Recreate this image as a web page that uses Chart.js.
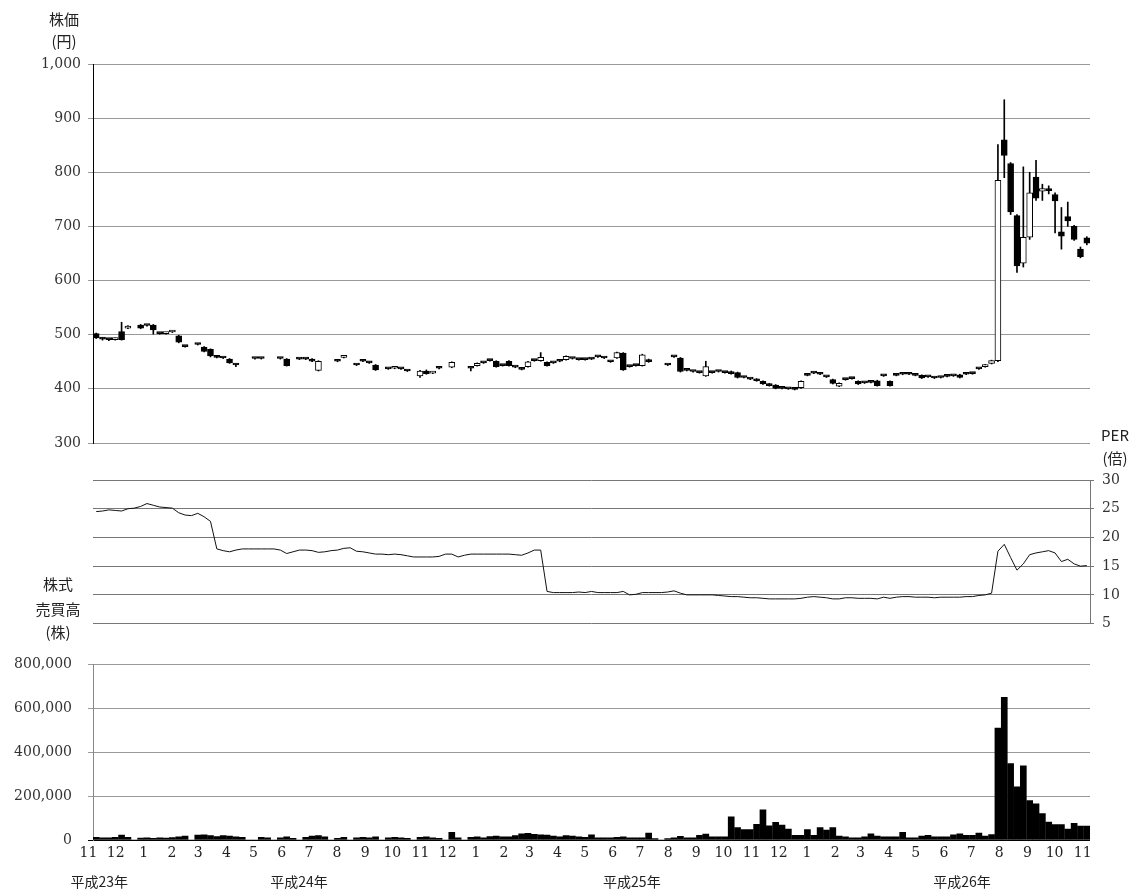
<!DOCTYPE html>
<html lang="ja">
<head>
<meta charset="utf-8">
<title>株価・PER・株式売買高の推移</title>
<script src="https://cdn.jsdelivr.net/npm/chart.js@4.4.1/dist/chart.umd.min.js"></script>
<style>
  html, body { margin: 0; padding: 0; background: #fff; }
  #wrap { position: relative; width: 1133px; height: 891px; overflow: hidden; }
  #wrap canvas { position: absolute; left: 0; }
  .lbl { position: absolute; font-family: "Noto Sans CJK JP", sans-serif; font-size: 15px; color: #222; line-height: 1; text-align: center; white-space: nowrap; }
</style>
</head>
<body>
<div id="wrap">
  <canvas id="priceChart" width="1133" height="460" style="top:0"></canvas>
  <canvas id="perChart" width="1133" height="180" style="top:460px"></canvas>
  <canvas id="volChart" width="1133" height="251" style="top:640px"></canvas>
  <div class="lbl" style="left:44px; top:11px; width:40px">株価</div>
  <div class="lbl" style="left:44px; top:33px; width:40px">(円)</div>
  <div class="lbl" style="left:1098px; top:427px; width:34px">PER</div>
  <div class="lbl" style="left:1098px; top:450px; width:34px">(倍)</div>
  <div class="lbl" style="left:30px; top:576px; width:56px">株式</div>
  <div class="lbl" style="left:30px; top:601px; width:56px">売買高</div>
  <div class="lbl" style="left:30px; top:624px; width:56px">(株)</div>
</div>
<script>
// 週足（平成23年11月第2週 〜 平成26年11月第1週）、null は約定なしの週
const firstWeek = '2011-11-06';

const openP = [
  502, 494, 491, 491, 506, 512, null, 518, 517, 518,
  502, 502, 505, 498, 478, null, 482, 477, 473, 459,
  457, 455, 445, null, null, 456, 456, null, null, 456,
  455, null, 455, 455, 455, 434, null, null, 451, 458,
  null, 444, 451, 449, 444, null, 437, 438, 437, 433,
  null, 424, 433, 429, 438, null, 440, null, null, 438,
  443, 448, 452, 451, 443, 451, 440, 436, 441, 452,
  452, 449, 448, 451, 454, 456, 454, 454, 455, 459,
  457, 450, 457, 466, 441, 443, 443, 454, null, null,
  444, 459, 457, 434, 432, 430, 424, 430, 432, 430,
  432, 430, 421, 418, 418, 414, 409, 407, 401, 400,
  399, 402, 425, 429, 427, 422, 417, 405, 417, 419,
  414, 411, 412, 415, 424, 414, 425, 427, 427, 425,
  425, 422, 420, 421, 423, 424, 426, 427, 428, 437,
  441, 447, 452, 860, 816, 720, 632, 680, 791, 765,
  770, 759, 690, 718, 700, 658, 679
];
const highP = [
  503, 495, 492, 494, 523, 517, null, 519, 518, 519,
  503, 504, 508, 499, 479, null, 483, 478, 474, 460,
  458, 456, 446, null, null, 457, 457, null, null, 457,
  456, null, 456, 456, 456, 452, null, null, 452, 461,
  null, 445, 452, 450, 445, null, 438, 441, 438, 434,
  null, 434, 435, 432, 439, null, 450, null, null, 439,
  448, 449, 453, 452, 444, 452, 441, 437, 451, 453,
  467, 450, 449, 452, 461, 457, 455, 455, 456, 460,
  458, 451, 468, 467, 442, 444, 464, 455, null, null,
  445, 460, 458, 435, 433, 431, 451, 431, 433, 431,
  433, 431, 422, 419, 419, 415, 410, 408, 402, 401,
  400, 415, 426, 430, 428, 423, 418, 411, 418, 420,
  415, 412, 413, 416, 425, 415, 426, 428, 428, 426,
  426, 423, 421, 422, 424, 425, 427, 428, 429, 438,
  445, 453, 851, 934, 818, 722, 810, 800, 822, 778,
  775, 762, 735, 745, 702, 662, 681
];
const lowP = [
  493, 490, 489, 490, 490, 511, null, 511, 516, 501,
  501, 501, 504, 485, 477, null, 481, 468, 459, 457,
  456, 447, 441, null, null, 455, 455, null, null, 455,
  442, null, 454, 454, 450, 433, null, null, 450, 457,
  null, 443, 450, 447, 434, null, 436, 437, 436, 432,
  null, 421, 427, 428, 437, null, 439, null, null, 433,
  442, 447, 451, 440, 442, 442, 439, 435, 440, 451,
  451, 442, 447, 450, 453, 455, 453, 453, 454, 458,
  456, 449, 456, 434, 440, 442, 442, 449, null, null,
  443, 458, 431, 433, 431, 429, 423, 429, 431, 429,
  427, 420, 420, 417, 414, 408, 405, 400, 400, 399,
  398, 401, 424, 428, 426, 421, 409, 404, 416, 418,
  408, 410, 411, 405, 423, 405, 424, 426, 426, 424,
  419, 421, 419, 420, 422, 423, 420, 426, 427, 436,
  440, 446, 450, 790, 722, 615, 625, 676, 748, 748,
  760, 688, 658, 700, 674, 642, 666
];
const closeP = [
  494, 492, 491, 493, 491, 516, null, 512, 517, 509,
  502, 503, 507, 486, 478, null, 482, 469, 461, 458,
  457, 448, 444, null, null, 456, 456, null, null, 456,
  443, null, 455, 455, 451, 451, null, null, 451, 460,
  null, 444, 451, 448, 435, null, 437, 440, 437, 433,
  null, 433, 428, 431, 438, null, 449, null, null, 438,
  447, 448, 452, 441, 443, 443, 440, 436, 450, 452,
  458, 443, 448, 451, 460, 456, 454, 454, 455, 459,
  457, 450, 467, 435, 441, 443, 463, 450, null, null,
  444, 459, 432, 434, 432, 430, 441, 430, 432, 430,
  428, 421, 421, 418, 415, 409, 406, 401, 401, 400,
  399, 414, 425, 429, 427, 422, 410, 410, 417, 419,
  409, 411, 412, 406, 424, 406, 425, 427, 427, 425,
  420, 422, 420, 421, 423, 424, 421, 427, 428, 437,
  444, 452, 785, 831, 727, 627, 680, 762, 752, 770,
  766, 747, 682, 710, 676, 644, 669
];

// PER（倍）
const perValues = [
  24.5, 24.6, 24.8, 24.7, 24.6, 25.0, 25.1, 25.4, 25.9, 25.6,
  25.3, 25.2, 25.1, 24.3, 23.9, 23.8, 24.2, 23.6, 22.8, 18.0,
  17.7, 17.5, 17.8, 18.0, 18.0, 18.0, 18.0, 18.0, 18.0, 17.8,
  17.2, 17.5, 17.8, 17.8, 17.7, 17.4, 17.5, 17.7, 17.8, 18.1,
  18.2, 17.6, 17.5, 17.3, 17.1, 17.1, 17.0, 17.1, 17.0, 16.8,
  16.6, 16.6, 16.6, 16.6, 16.7, 17.1, 17.1, 16.6, 16.9, 17.1,
  17.1, 17.1, 17.1, 17.1, 17.1, 17.1, 17.0, 16.9, 17.3, 17.8,
  17.8, 10.6, 10.4, 10.4, 10.4, 10.4, 10.5, 10.4, 10.6, 10.4,
  10.4, 10.4, 10.4, 10.6, 10.0, 10.1, 10.4, 10.4, 10.4, 10.4,
  10.5, 10.7, 10.3, 10.0, 10.0, 10.0, 10.0, 10.0, 9.9, 9.8,
  9.7, 9.7, 9.6, 9.5, 9.5, 9.4, 9.3, 9.3, 9.3, 9.3,
  9.3, 9.4, 9.6, 9.7, 9.6, 9.5, 9.3, 9.3, 9.5, 9.5,
  9.4, 9.4, 9.4, 9.3, 9.6, 9.4, 9.6, 9.7, 9.7, 9.6,
  9.6, 9.6, 9.5, 9.6, 9.6, 9.6, 9.6, 9.7, 9.7, 9.9,
  10.0, 10.3, 17.6, 18.8, 16.5, 14.3, 15.4, 17.0, 17.3, 17.5,
  17.7, 17.3, 15.8, 16.2, 15.4, 15.0, 15.1
];

// 株式売買高（株）
const volume = [
  12000, 10000, 10000, 12000, 22000, 12000, 0, 9000, 10000, 8000,
  10000, 9000, 11000, 14000, 18000, 0, 22000, 24000, 20000, 16000,
  20000, 18000, 15000, 12000, 0, 0, 12000, 10000, 0, 10000,
  14000, 8000, 0, 12000, 18000, 20000, 14000, 0, 8000, 12000,
  0, 10000, 12000, 10000, 14000, 0, 10000, 12000, 10000, 8000,
  0, 12000, 14000, 10000, 8000, 0, 35000, 10000, 0, 12000,
  14000, 10000, 16000, 18000, 15000, 14000, 20000, 28000, 30000, 26000,
  24000, 22000, 18000, 15000, 20000, 18000, 14000, 12000, 24000, 10000,
  10000, 10000, 12000, 14000, 10000, 10000, 10000, 32000, 7000, 0,
  6000, 10000, 17000, 10000, 10000, 21000, 27000, 14000, 14000, 14000,
  105000, 57000, 47000, 47000, 71000, 138000, 64000, 81000, 68000, 50000,
  21000, 21000, 48000, 21000, 57000, 45000, 57000, 18000, 14000, 10000,
  10000, 14000, 28000, 18000, 14000, 14000, 14000, 35000, 10000, 10000,
  18000, 21000, 14000, 14000, 14000, 24000, 28000, 21000, 21000, 32000,
  18000, 25000, 510000, 650000, 348000, 242000, 338000, 180000, 165000, 120000,
  82000, 70000, 70000, 50000, 76000, 63000, 63000
];

const monthStarts = [
  '2011-11', '2011-12',
  '2012-01', '2012-02', '2012-03', '2012-04', '2012-05', '2012-06',
  '2012-07', '2012-08', '2012-09', '2012-10', '2012-11', '2012-12',
  '2013-01', '2013-02', '2013-03', '2013-04', '2013-05', '2013-06',
  '2013-07', '2013-08', '2013-09', '2013-10', '2013-11', '2013-12',
  '2014-01', '2014-02', '2014-03', '2014-04', '2014-05', '2014-06',
  '2014-07', '2014-08', '2014-09', '2014-10', '2014-11'
];
const yearLabels = ['平成23年', '平成24年', '平成25年', '平成26年'];
const yearAnchors = ['2011-11-13', '2012-06-20', '2013-06-22', '2014-06-21'];

const priceTicks = { min: 300, max: 1000, step: 100 };
const perTicks = { min: 5, max: 30, step: 5 };
const volumeTicks = { min: 0, max: 800000, step: 200000 };

// ---- helpers ----
const DAY = 86400000;
function dayOf(s) {
  const p = s.split('-').map(Number);
  const f = firstWeek.split('-').map(Number);
  return (Date.UTC(p[0], p[1] - 1, p[2] || 1) - Date.UTC(f[0], f[1] - 1, f[2])) / DAY;
}
const weekX = openP.map((_, i) => 3.5 + 7 * i);
const xEnd = 7 * openP.length;

const bodies = [];
const wicks = [];
openP.forEach((o, i) => {
  if (o === null) return;
  bodies.push({ x: weekX[i], y: [o, closeP[i]] });
  wicks.push({ x: weekX[i], y: [lowP[i], highP[i]] });
});
const perPoints = perValues.map((v, i) => ({ x: weekX[i], y: v }));
const volPoints = volume.map((v, i) => ({ x: weekX[i], y: v }));

const numFont = { family: '"DejaVu Serif", serif', size: 14 };
const fixWidth = w => scale => { scale.width = w; };
const hiddenX = { type: 'linear', min: 0, max: xEnd, offset: false, display: false, grid: { display: false, offset: false } };
const baseOptions = {
  responsive: false,
  animation: false,
  devicePixelRatio: 1,
  plugins: { legend: { display: false }, tooltip: { enabled: false } }
};

Chart.defaults.color = '#222';

// ---- 株価（ローソク足） ----
new Chart(document.getElementById('priceChart'), {
  type: 'bar',
  data: {
    datasets: [
      {
        label: '始値・終値',
        data: bodies,
        grouped: false,
        barThickness: 6,
        minBarLength: 2,
        backgroundColor: ctx => (ctx.raw && ctx.raw.y[1] > ctx.raw.y[0]) ? '#fff' : '#000',
        borderColor: '#000',
        borderWidth: 1,
        borderSkipped: false,
        order: 0
      },
      {
        label: '高値・安値',
        data: wicks,
        grouped: false,
        barThickness: 1,
        backgroundColor: '#000',
        order: 1
      }
    ]
  },
  options: {
    ...baseOptions,
    layout: { padding: { left: 0, right: 43, top: 64, bottom: 17 } },
    scales: {
      x: hiddenX,
      y: {
        min: priceTicks.min, max: priceTicks.max,
        ticks: { stepSize: priceTicks.step, font: numFont, padding: 7, color: '#333' },
        grid: { color: '#9a9a9a', tickLength: 5 },
        border: { color: '#000', width: 1 },
        afterFit: fixWidth(93)
      }
    }
  }
});

// ---- PER ----
new Chart(document.getElementById('perChart'), {
  type: 'line',
  data: {
    datasets: [{
      label: 'PER',
      data: perPoints,
      borderColor: '#111',
      borderWidth: 1,
      pointRadius: 0,
      tension: 0
    }]
  },
  options: {
    ...baseOptions,
    layout: { padding: { left: 93, right: 0, top: 20, bottom: 15 } },
    scales: {
      x: hiddenX,
      y: {
        position: 'right',
        min: perTicks.min, max: perTicks.max,
        ticks: { stepSize: perTicks.step, font: numFont, padding: 8, color: '#333' },
        grid: { color: '#777', tickLength: 4 },
        border: { color: '#777', width: 1 },
        afterFit: fixWidth(43)
      }
    }
  }
});

// ---- 株式売買高 ----
const timeLabels = {
  id: 'timeLabels',
  afterDraw(chart) {
    const { ctx } = chart;
    const x = chart.scales.x;
    ctx.save();
    ctx.fillStyle = '#222';
    ctx.textAlign = 'center';
    ctx.textBaseline = 'middle';
    ctx.font = '14px "DejaVu Serif", serif';
    monthStarts.forEach(m => {
      ctx.fillText(String(Number(m.slice(5))), x.getPixelForValue(dayOf(m)), 213);
    });
    ctx.font = '14px "Noto Sans CJK JP", sans-serif';
    yearLabels.forEach((t, i) => {
      ctx.fillText(t, x.getPixelForValue(dayOf(yearAnchors[i])), 242);
    });
    ctx.restore();
  }
};

new Chart(document.getElementById('volChart'), {
  type: 'bar',
  data: {
    datasets: [{
      label: '株式売買高',
      data: volPoints,
      grouped: false,
      barThickness: 6,
      backgroundColor: '#000'
    }]
  },
  options: {
    ...baseOptions,
    layout: { padding: { left: 0, right: 43, top: 12, bottom: 51 } },
    scales: {
      x: hiddenX,
      y: {
        min: volumeTicks.min, max: volumeTicks.max,
        ticks: { stepSize: volumeTicks.step, font: numFont, padding: 16, color: '#333' },
        grid: { color: ctx => ctx.tick && ctx.tick.value === 0 ? '#000' : '#9a9a9a', tickLength: 5 },
        border: { color: '#888', width: 1 },
        afterFit: fixWidth(93)
      }
    }
  },
  plugins: [timeLabels]
});
</script>
</body>
</html>
